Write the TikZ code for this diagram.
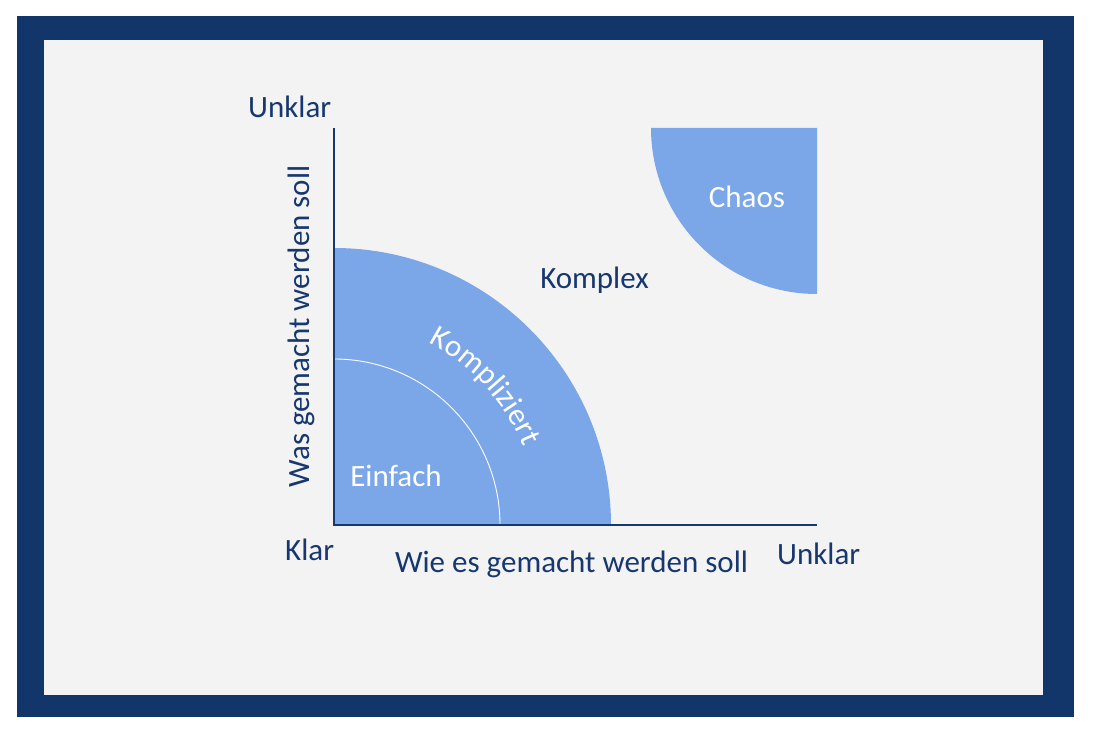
\documentclass[tikz,border=0pt]{standalone}
\usepackage{fontspec}
\setmainfont{Carlito}
\usetikzlibrary{decorations.text}
\definecolor{framec}{HTML}{12366A}
\definecolor{bgc}{HTML}{F3F3F3}
\definecolor{fillc}{HTML}{7BA7E9}
\definecolor{textc}{HTML}{17376F}
\tikzset{
  lbl/.style={font=\fontsize{31}{37}\selectfont, text=textc, inner sep=0pt},
  wlbl/.style={font=\fontsize{31}{37}\selectfont, text=white, inner sep=0pt},
  axis/.style={draw=textc, line width=1.8pt},
}
\begin{document}
\begin{tikzpicture}[x=1pt,y=1pt]
\fill[white] (0,0) rectangle (1094,741);
\useasboundingbox (0,0) rectangle (1094,741);
\fill[framec] (17,24) rectangle (1074,725);
\fill[bgc] (44,46) rectangle (1043,701);
\coordinate (O) at (334,216);
\coordinate (ytop) at (334,613);
\coordinate (xend) at (817,216);
\coordinate (tr) at (817,613);
% Kompliziert + Einfach area
\fill[fillc] (O) -- ++(277,0) arc[start angle=0, end angle=90, radius=277] -- cycle;
\draw[white, line width=0.9pt] (O) ++(166,0) arc[start angle=0, end angle=90, radius=166];
% Chaos
\fill[fillc] (tr) -- ++(-166,0) arc[start angle=180, end angle=270, radius=166] -- cycle;
% axes
\draw[axis] (ytop) -- (O) -- (xend);
% labels
\node[lbl, anchor=base west] (unklary) at (248,623) {Unklar};
\node[lbl, anchor=base west] (klar) at (285,180) {Klar};
\node[lbl, anchor=base] (xlabel) at (571.5,168) {Wie es gemacht werden soll};
\node[lbl, anchor=base west] (unklarx) at (777,176) {Unklar};
\node[lbl, rotate=90, anchor=base] (ylabel) at (309,414.5) {Was gemacht werden soll};
\node[lbl, anchor=base] (komplex) at (594.5,452) {Komplex};
\node[wlbl, anchor=base] (chaos) at (747,533) {Chaos};
\node[wlbl, anchor=base] (einfach) at (396,254) {Einfach};
\path[decorate, decoration={text along path, text color=white, text align=center,
  text={|\fontsize{31}{37}\selectfont|Kompliziert}}]
  (O) ++(75:205) arc[start angle=75, end angle=10, radius=205];
\end{tikzpicture}
\end{document}
